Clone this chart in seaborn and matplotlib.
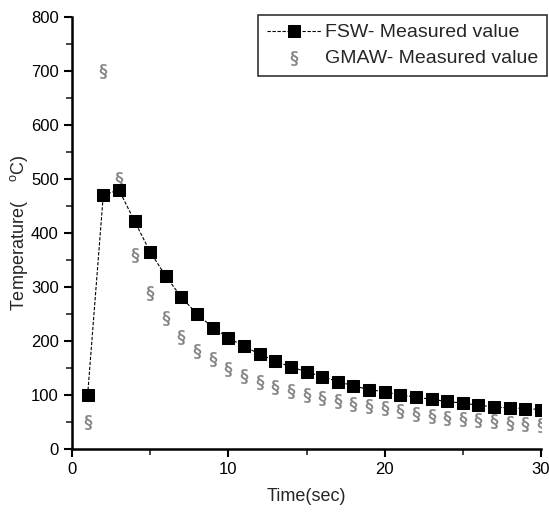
import matplotlib
matplotlib.use("Agg")
import matplotlib.pyplot as plt
import seaborn as sns
import pandas as pd
from matplotlib.ticker import MultipleLocator

sns.set_style("ticks")
plt.rcParams["font.family"] = ["Liberation Sans", "DejaVu Sans"]

# ── data ─────────────────────────────────────────────────────────────────────
time_sec = list(range(1, 31))
fsw_temp = [100, 470, 480, 422, 365, 320, 281, 250, 225, 206,
            190, 176, 163, 152, 143, 134, 125, 117, 110, 106,
            100, 96, 92, 88, 85, 81, 78, 76, 75, 73]
gmaw_temp = [50, 700, 500, 360, 288, 242, 207, 182, 166, 149,
             135, 125, 115, 107, 100, 94, 89, 83, 79, 76,
             70, 65, 61, 58, 56, 54, 51, 48, 46, 44]

df = pd.DataFrame({"Time": time_sec, "FSW": fsw_temp, "GMAW": gmaw_temp})

# ── plot ─────────────────────────────────────────────────────────────────────
fig = plt.figure(figsize=(5.49, 5.2), dpi=100)
ax = fig.add_axes([72 / 549, 1 - 449 / 520, (541 - 72) / 549, (449 - 17) / 520])

sns.lineplot(data=df, x="Time", y="FSW", ax=ax, color="black", lw=0.8,
             linestyle=(0, (3, 1.5)), marker="s", markersize=8,
             markeredgecolor="black", label="FSW- Measured value")
sns.scatterplot(data=df, x="Time", y="GMAW", ax=ax, color="#808080",
                marker="$\\S$", s=110, linewidth=0.3, edgecolor="#808080",
                label="GMAW- Measured value")

ax.set_xlim(0, 30)
ax.set_ylim(0, 800)
ax.xaxis.set_major_locator(MultipleLocator(10))
ax.xaxis.set_minor_locator(MultipleLocator(5))
ax.yaxis.set_major_locator(MultipleLocator(100))
ax.yaxis.set_minor_locator(MultipleLocator(50))
ax.tick_params(which="major", length=6, width=1.5, labelsize=12, direction="out",
               colors="black")
ax.tick_params(which="minor", length=4, width=1.2, direction="out")
for s in ["left", "bottom"]:
    ax.spines[s].set_linewidth(1.8)
    ax.spines[s].set_color("black")
sns.despine(ax=ax)

ax.set_xlabel("Time(sec)", fontsize=13, labelpad=8)
ax.set_ylabel("Temperature(    $^{\\mathregular{o}}$C)", fontsize=13, labelpad=1)

leg = ax.legend(loc="upper right", bbox_to_anchor=(547 / 549, 1 - 15 / 520),
                bbox_transform=fig.transFigure, fontsize=14, frameon=True,
                fancybox=False, edgecolor="black", handlelength=2.8,
                borderpad=0.45, labelspacing=0.4, handletextpad=0.2,
                borderaxespad=0)
leg.get_frame().set_linewidth(1.2)

fig.savefig("out.png", dpi=100)
